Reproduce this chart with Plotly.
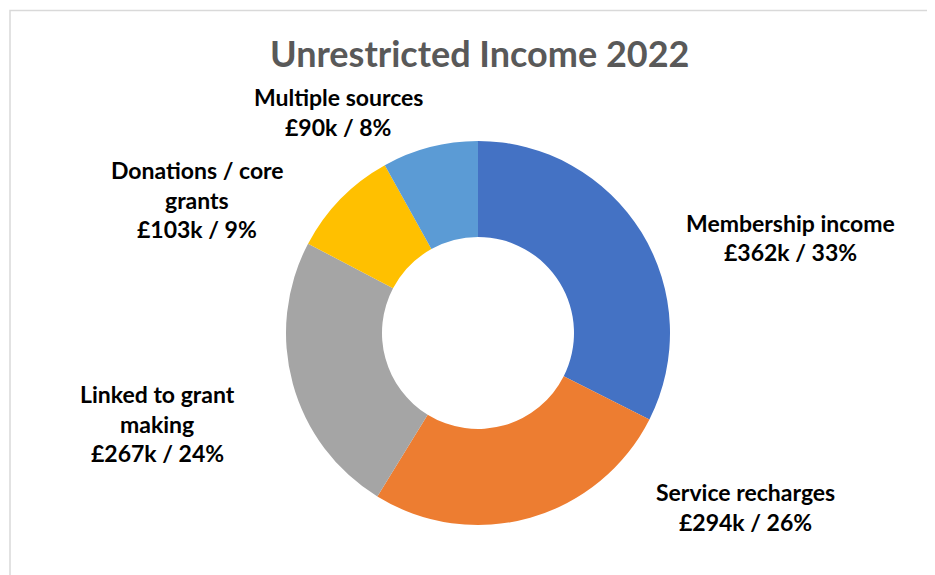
import plotly.graph_objects as go

categories = ["Membership income", "Service recharges", "Linked to grant making",
              "Donations / core grants", "Multiple sources"]
label_lines = [["Membership income"], ["Service recharges"], ["Linked to grant", "making"],
               ["Donations / core", "grants"], ["Multiple sources"]]
values_k = [362, 294, 267, 103, 90]
percent_labels = ["33%", "26%", "24%", "9%", "8%"]
colors = ["#4472C4", "#ED7D31", "#A5A5A5", "#FFC000", "#5B9BD5"]

W, H = 935, 575
OFF = 8  # page body offset
# label block centres (pixels) and line spacing
label_pos = [(790, 223), (745, 492), (157, 394), (197, 170), (338, 97)]
LINE = 29.5
FONT = "Lato, 'Open Sans', sans-serif"


def px(x):
    return (x - OFF) / W


def py(y):
    return 1 - (y - OFF) / H


fig = go.Figure()
fig.add_trace(go.Pie(
    labels=categories, values=values_k, hole=0.5, sort=False,
    direction="clockwise", rotation=0,
    marker=dict(colors=colors, line=dict(width=0)),
    textinfo="none", hoverinfo="label+value+percent",
    domain=dict(x=[px(286), px(670)], y=[py(525), py(141)]),
    showlegend=False,
))

annotations = []
for i, lines in enumerate(label_lines):
    all_lines = lines + [f"£{values_k[i]}k / {percent_labels[i]}"]
    cx, cy = label_pos[i]
    for j, t in enumerate(all_lines):
        annotations.append(dict(
            x=px(cx), y=py(cy + j * LINE), xref="paper", yref="paper",
            text=f"<b>{t}</b>", showarrow=False, xanchor="center", yanchor="middle",
            font=dict(family=FONT, size=23, color="#000000"),
        ))

annotations.append(dict(
    x=px(479), y=py(53), xref="paper", yref="paper",
    text="<b>Unrestricted Income 2022</b>", showarrow=False,
    xanchor="center", yanchor="middle",
    font=dict(family=FONT, size=36, color="#595959"),
))

fig.update_layout(
    width=W, height=H, margin=dict(l=0, r=0, t=0, b=0),
    paper_bgcolor="white", plot_bgcolor="white",
    annotations=annotations,
    shapes=[dict(type="rect", xref="paper", yref="paper",
                 x0=px(10), x1=1.05, y0=-0.05, y1=py(10.5),
                 line=dict(color="#D9D9D9", width=1.5), fillcolor="rgba(0,0,0,0)")],
)

fig.write_html("out.html")
